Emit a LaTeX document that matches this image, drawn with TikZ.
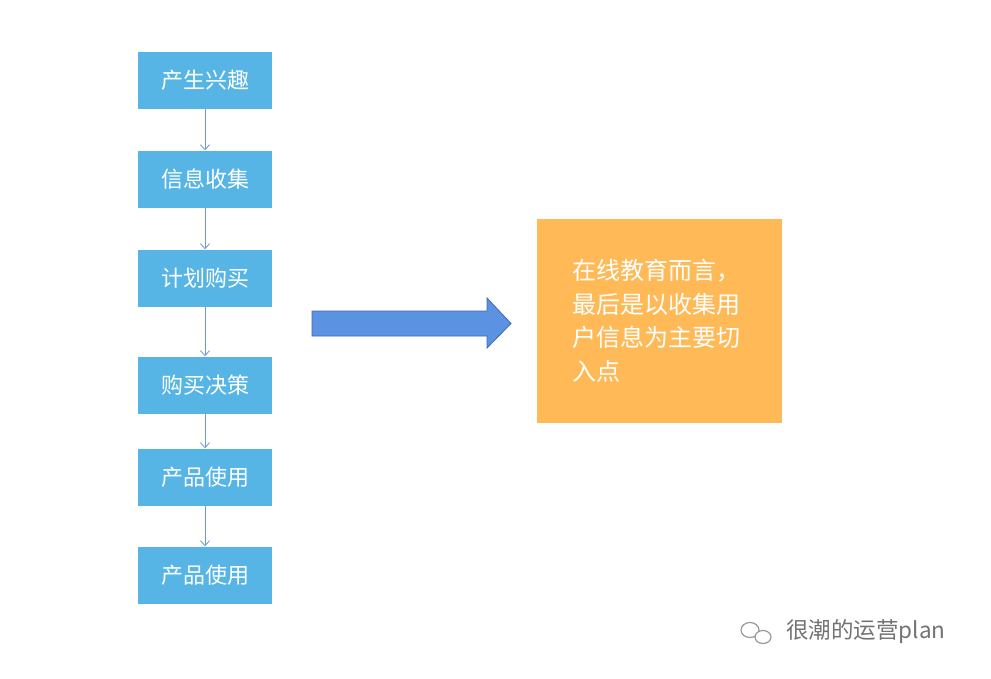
\documentclass[tikz,border=0pt]{standalone}
\usepackage{fontspec}
\newfontfamily\cjk{Noto Sans CJK SC}
\usetikzlibrary{positioning,arrows.meta}
\definecolor{stepblue}{HTML}{56B5E5}
\definecolor{linkblue}{HTML}{6B98E6}
\definecolor{bigblue}{HTML}{5B93E2}
\definecolor{bigedge}{HTML}{3F6BB0}
\definecolor{noteorange}{HTML}{FFBA57}
\tikzset{
  stepbox/.style={fill=stepblue, minimum width=134pt, minimum height=57pt, inner sep=0pt,
    text=white, font=\cjk\fontsize{22pt}{26pt}\selectfont},
  link/.style={draw=linkblue, line width=0.8pt, -{Straight Barb[length=5pt,width=9pt]}},
}
\begin{document}
\begin{tikzpicture}[x=1pt,y=-1pt]
  \useasboundingbox[fill=white] (0,0) rectangle (991,678);
  % steps
  \node[stepbox] (s1) at (205,80) {产生兴趣};
  \node[stepbox] (s2) at (205,179) {信息收集};
  \node[stepbox] (s3) at (205,278) {计划购买};
  \node[stepbox] (s4) at (205,385) {购买决策};
  \node[stepbox] (s5) at (205,477) {产品使用};
  \node[stepbox] (s6) at (205,575) {产品使用};
  \foreach \a/\b in {s1/s2,s2/s3,s3/s4,s4/s5,s5/s6}
    \draw[link] (\a.south) -- (\b.north);
  % big arrow
  \draw[draw=bigedge, fill=bigblue, line width=0.8pt]
    (312,311) -- (487,311) -- (487,298) -- (511,323.5) -- (487,348) -- (487,336) -- (312,336) -- cycle;
  % note
  \node[fill=noteorange, minimum width=245pt, minimum height=204pt, inner sep=0pt] (note) at (659.5,321) {};
  \node[text=white, align=left, anchor=north west, inner sep=0pt,
    font=\cjk\fontsize{24pt}{33.5pt}\selectfont] (notetext) at (572,259)
    {在线教育而言，\\最后是以收集用\\户信息为主要切\\入点};
  % watermark
  \draw[gray!80, line width=1.2pt] (750,630) ellipse (9pt and 7.5pt);
  \draw[gray!80, line width=1.2pt, fill=white] (763,637) ellipse (8pt and 6.5pt);
  \node[text=gray!90!black, anchor=west, inner sep=0pt,
    font=\cjk\fontsize{22.5pt}{24pt}\selectfont] (mark) at (786,632) {很潮的运营plan};
\end{tikzpicture}
\end{document}
